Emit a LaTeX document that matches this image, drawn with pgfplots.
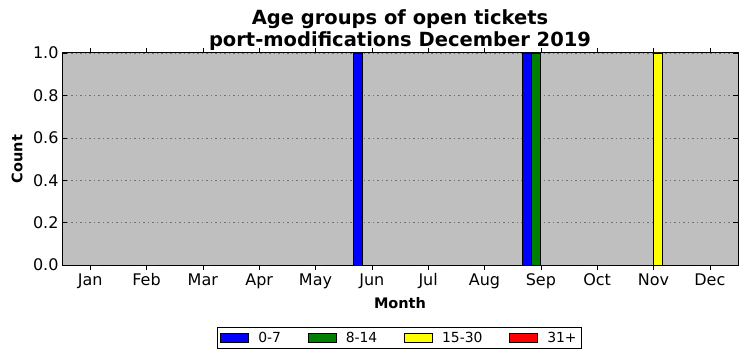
\documentclass[border=0pt]{standalone}
\usepackage{fontspec}
\setmainfont{DejaVu Sans}
\usepackage{pgfplots}
\pgfplotsset{compat=1.18}
\definecolor{bgc}{HTML}{BFBFBF}
\definecolor{mgreen}{HTML}{008000}
\definecolor{myellow}{HTML}{FFFF00}
\definecolor{mblue}{HTML}{0000FF}
\definecolor{mred}{HTML}{FF0000}
\begin{document}
\begin{tikzpicture}
\begin{axis}[
  scale only axis, width=676bp, height=212bp,
  xmin=-0.5, xmax=11.5, ymin=0, ymax=1,
  axis background/.style={fill=bgc},
  xtick={0,1,2,3,4,5,6,7,8,9,10,11},
  xticklabels={Jan,Feb,Mar,Apr,May,Jun,Jul,Aug,Sep,Oct,Nov,Dec},
  ytick={0,0.2,0.4,0.6,0.8,1.0},
  yticklabel style={/pgf/number format/.cd,fixed,fixed zerofill,precision=1},
  /pgf/number format/assume math mode=true,
  tick label style={font=\fontsize{16bp}{19bp}\selectfont, black},
  tick align=inside, major tick length=5bp,
  tick style={black, line width=0.6bp},
  axis line style={black, line width=1bp},
  ymajorgrids, grid style={black!55, line width=0.6bp, dash pattern=on 1.5bp off 3bp},
  title={Age groups of open tickets\\port-modifications December 2019},
  title style={align=center, font=\bfseries\fontsize{19.5bp}{21.5bp}\selectfont, at={(0.5,1)}, anchor=south, yshift=-4.5bp, inner sep=1bp},
  xlabel={Month}, ylabel={Count},
  label style={font=\bfseries\fontsize{14.5bp}{17bp}\selectfont},
  xlabel style={at={(axis description cs:0.5,-0.179)}, anchor=center},
  ylabel style={at={(axis description cs:-0.0666,0.5)}, anchor=center, rotate=0},
  ybar=0pt, bar width=0.1667,
  legend columns=4,
  legend style={at={(0.4993,-0.344)}, anchor=center, draw=black, line width=0.8bp,
    font=\fontsize{13.9bp}{16bp}\selectfont, inner sep=3bp,
    /tikz/every odd column/.append style={column sep=7bp},
    /tikz/every even column/.append style={column sep=25bp}},
  legend image code/.code={\draw[#1, draw=black, line width=0.8bp] (0bp,-4.5bp) rectangle (28bp,4.5bp);},
]
\addplot[fill=mblue, draw=black, line width=0.8bp, bar shift=-0.25] coordinates {(0,0) (1,0) (2,0) (3,0) (4,0) (5,1) (6,0) (7,0) (8,1) (9,0) (10,0) (11,0)};
\addplot[fill=mgreen, draw=black, line width=0.8bp, bar shift=-0.0833] coordinates {(0,0) (1,0) (2,0) (3,0) (4,0) (5,0) (6,0) (7,0) (8,1) (9,0) (10,0) (11,0)};
\addplot[fill=myellow, draw=black, line width=0.8bp, bar shift=0.0833] coordinates {(0,0) (1,0) (2,0) (3,0) (4,0) (5,0) (6,0) (7,0) (8,0) (9,0) (10,1) (11,0)};
\addplot[fill=mred, draw=black, line width=0.8bp, bar shift=0.25] coordinates {(0,0) (1,0) (2,0) (3,0) (4,0) (5,0) (6,0) (7,0) (8,0) (9,0) (10,0) (11,0)};
\legend{0-7,8-14,15-30,31+}
\end{axis}
\pgfresetboundingbox
\path[use as bounding box] ([xshift=-62bp,yshift=-96bp]current axis.south west) rectangle ([xshift=9bp,yshift=53bp]current axis.north east);
\end{tikzpicture}
\end{document}
